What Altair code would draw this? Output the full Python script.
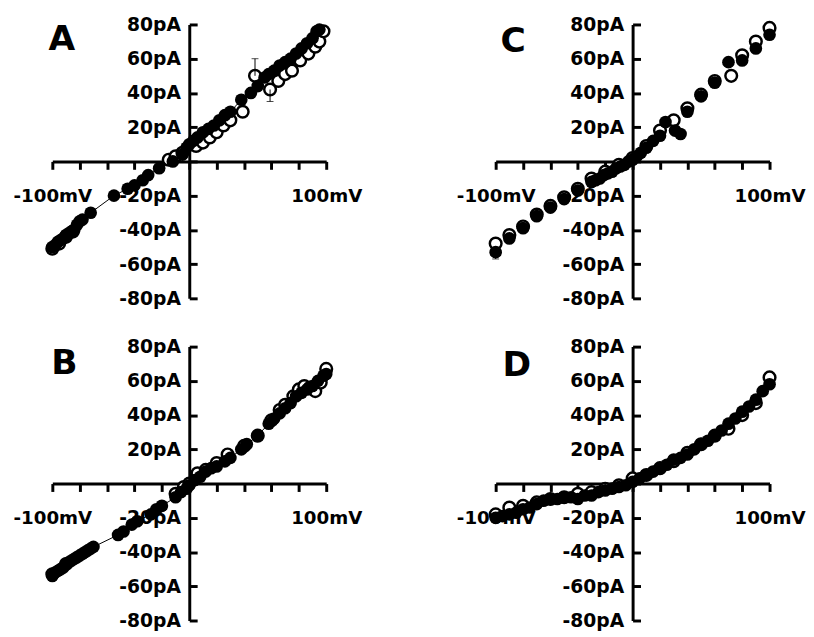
import altair as alt
import pandas as pd

# ---------------- data (membrane potential mV, current pA) ----------------
A_filled_v = [-100, -98, -96, -94, -92, -90, -88, -86, -84, -82, -80, -78, -72, -55, -45, -40, -34, -30, -22, -12,
              -5, -2, 0, 3, 6, 10, 14, 18, 22, 26, 30, 38, 45, 50, 55, 58, 62, 66, 70, 74, 78, 82, 86, 90, 93, 95]
A_filled_i = [-50, -49, -47, -46, -45, -43, -42, -41, -40, -37, -35, -34, -30, -20, -16, -14, -11, -8, -4, 0,
              4, 8, 10, 12, 14, 17, 19, 21, 24, 27, 29, 36, 40, 44, 49, 51, 53, 56, 58, 60, 63, 66, 69, 72, 76, 77]
A_open_v = [-100, -95, -90, -85, -15, -10, -5, 5, 10, 15, 20, 25, 30, 39, 48, 59, 65, 70, 75, 81, 87, 92, 95, 98]
A_open_i = [-51, -48, -44, -41, 1, 3, 5, 9, 11, 14, 17, 21, 24, 29, 50, 42, 47, 51, 53, 59, 63, 67, 70, 76]
A_err_v = [48, 59]
A_err_from = [50, 42]
A_err_to = [60, 35]

C_filled_v = [-100, -90, -80, -70, -60, -50, -40, -30, -27, -24, -21, -18, -15, -12, -9, -6, -3, 0, 3, 6,
              10, 15, 20, 24, 31, 35, 40, 50, 60, 70, 80, 90, 100]
C_filled_i = [-53, -45, -39, -32, -27, -22, -17, -12, -11, -10, -8, -7, -6, -4, -3, -2, 0, 1, 3, 5,
              8, 12, 15, 23, 18, 16, 29, 38, 46, 58, 59, 66, 74]
C_open_v = [-100, -90, -80, -70, -60, -50, -40, -30, -20, -10, 0, 10, 20, 30, 40, 50, 60, 72, 80, 90, 100]
C_open_i = [-48, -43, -38, -31, -26, -21, -16, -10, -6, -2, 2, 9, 18, 24, 31, 39, 47, 50, 62, 70, 78]
C_err_v = [-100]
C_err_from = [-53]
C_err_to = [-57]

B_filled_v = [-100, -98, -96, -94, -92, -90, -88, -86, -84, -82, -80, -78, -76, -74, -72, -70, -52, -48, -42, -38,
              -28, -24, -20, -10, -6, -2, 0, 4, 8, 12, 16, 20, 26, 30, 38, 42, 50, 58, 62, 66,
              70, 74, 78, 82, 86, 90, 94, 98, 100]
B_filled_i = [-54, -52, -51, -50, -49, -47, -46, -45, -44, -43, -42, -41, -40, -39, -38, -37, -30, -28, -24, -22,
              -18, -15, -13, -8, -5, -3, -1, 2, 4, 7, 9, 10, 13, 15, 20, 23, 28, 35, 38, 41,
              44, 47, 51, 53, 55, 57, 60, 63, 64]
B_open_v = [-100, -90, -10, -4, 0, 6, 12, 20, 28, 40, 50, 60, 66, 70, 76, 80, 84, 88, 92, 96, 100]
B_open_i = [-53, -47, -6, -2, 0, 6, 8, 12, 17, 22, 28, 37, 43, 46, 51, 55, 57, 56, 54, 59, 67]

D_filled_v = [-100, -95, -90, -85, -80, -75, -70, -65, -60, -55, -50, -45, -40, -35, -30, -25, -20, -15, -10, -5,
              0, 5, 10, 15, 20, 25, 30, 35, 40, 45, 50, 55, 60, 65, 70, 75, 80, 85, 90, 95, 100]
D_filled_i = [-20, -19, -18, -17, -15, -14, -12, -10, -9, -9, -8, -8, -9, -7, -7, -5, -4, -3, -2, -1,
              1, 3, 5, 7, 9, 11, 14, 15, 17, 20, 23, 25, 28, 31, 35, 38, 42, 45, 49, 54, 58]
D_open_v = [-100, -90, -80, -70, -60, -50, -40, -30, -20, -10, 0, 10, 20, 30, 40, 50, 60, 70, 80, 90, 100]
D_open_i = [-18, -14, -13, -11, -9, -8, -6, -5, -3, -1, 3, 5, 9, 13, 18, 23, 28, 32, 40, 47, 62]

X_TICKS = [-100, -80, -60, -40, -20, 0, 20, 40, 60, 80, 100]
Y_TICKS = [-80, -60, -40, -20, 0, 20, 40, 60, 80]

W, H = 278, 278
FONT = "DejaVu Sans"


def panel(letter, fv, fi, ov, oi, ev=None, e_from=None, e_to=None, ldx=0, ldy=26, show_line=True):
    filled = pd.DataFrame({"v": fv, "i": fi}).sort_values("v")
    opened = pd.DataFrame({"v": ov, "i": oi})
    xs = alt.Scale(domain=[-100, 100], nice=False, zero=False)
    ys = alt.Scale(domain=[-80, 80], nice=False, zero=False)

    xaxis = alt.Axis(orient="bottom", offset=-H / 2, values=X_TICKS, tickSize=8, tickWidth=3,
                     tickColor="black", domainWidth=3, domainColor="black",
                     labelExpr="datum.value == -100 ? '-100mV' : (datum.value == 100 ? '100mV' : '')",
                     labelFont=FONT, labelFontSize=18.5, labelFontWeight="bold", labelColor="black",
                     labelPadding=18, labelFlush=False, labelOverlap=False, grid=False, title=None)
    ytick = alt.Axis(orient="right", offset=-W / 2, values=Y_TICKS, tickSize=8, tickWidth=3,
                     tickColor="black", domainWidth=3, domainColor="black", labels=False,
                     grid=False, title=None)
    ylab = alt.Axis(orient="left", offset=-W / 2, values=Y_TICKS, ticks=False, domain=False,
                    labelExpr="datum.value == 0 ? '' : datum.value + 'pA'",
                    labelFont=FONT, labelFontSize=19, labelFontWeight="bold", labelColor="black",
                    labelPadding=9, labelOverlap=False, grid=False, title=None)

    line = alt.Chart(filled).mark_line(
        color="black", strokeWidth=1, opacity=1 if show_line else 0
    ).encode(
        x=alt.X("v:Q", scale=xs, axis=xaxis),
        y=alt.Y("i:Q", scale=ys, axis=ytick),
        order="v:Q",
    )
    openpts = alt.Chart(opened).mark_point(shape="circle", size=140, filled=True, fill="white",
                                           stroke="black", strokeWidth=2.5, opacity=1).encode(
        x=alt.X("v:Q", scale=xs, axis=None),
        y=alt.Y("i:Q", scale=ys, axis=ylab),
    )
    layers = [line, openpts]
    if ev:
        err = pd.DataFrame({"v": ev, "a": e_from, "b": e_to})
        rule = alt.Chart(err).mark_rule(color="black", strokeWidth=1).encode(
            x=alt.X("v:Q", scale=xs, axis=None),
            y=alt.Y("a:Q", scale=ys, axis=None),
            y2="b:Q",
        )
        cap = alt.Chart(err).mark_tick(color="black", orient="horizontal", size=7, thickness=1).encode(
            x=alt.X("v:Q", scale=xs, axis=None),
            y=alt.Y("b:Q", scale=ys, axis=None),
        )
        layers += [rule, cap]
    fillpts = alt.Chart(filled).mark_circle(size=165, color="black", opacity=1).encode(
        x=alt.X("v:Q", scale=xs, axis=None),
        y=alt.Y("i:Q", scale=ys, axis=None),
    )
    lab = alt.Chart(pd.DataFrame({"t": [letter]})).mark_text(
        align="left", baseline="alphabetic", font=FONT, fontWeight="bold", fontSize=35, color="black"
    ).encode(x=alt.value(ldx), y=alt.value(ldy), text="t:N")
    layers += [fillpts, lab]
    return alt.layer(*layers).resolve_axis(x="independent", y="independent").properties(width=W, height=H)


pA = panel("A", A_filled_v, A_filled_i, A_open_v, A_open_i, A_err_v, A_err_from, A_err_to, ldx=-4, ldy=26)
pC = panel("C", C_filled_v, C_filled_i, C_open_v, C_open_i, C_err_v, C_err_from, C_err_to, ldx=5, ldy=28,
           show_line=False)
pB = panel("B", B_filled_v, B_filled_i, B_open_v, B_open_i, ldx=-1, ldy=28)
pD = panel("D", D_filled_v, D_filled_i, D_open_v, D_open_i, ldx=7, ldy=30, show_line=False)

top = alt.hconcat(pA, pC, spacing=95)
bottom = alt.hconcat(pB, pD, spacing=95)
chart = alt.vconcat(top, bottom, spacing=30).properties(
    padding={"left": 5, "top": 3, "right": 0, "bottom": 0}
).configure_view(stroke=None)

chart.save("out.html", embed_options={"renderer": "svg", "actions": False})
